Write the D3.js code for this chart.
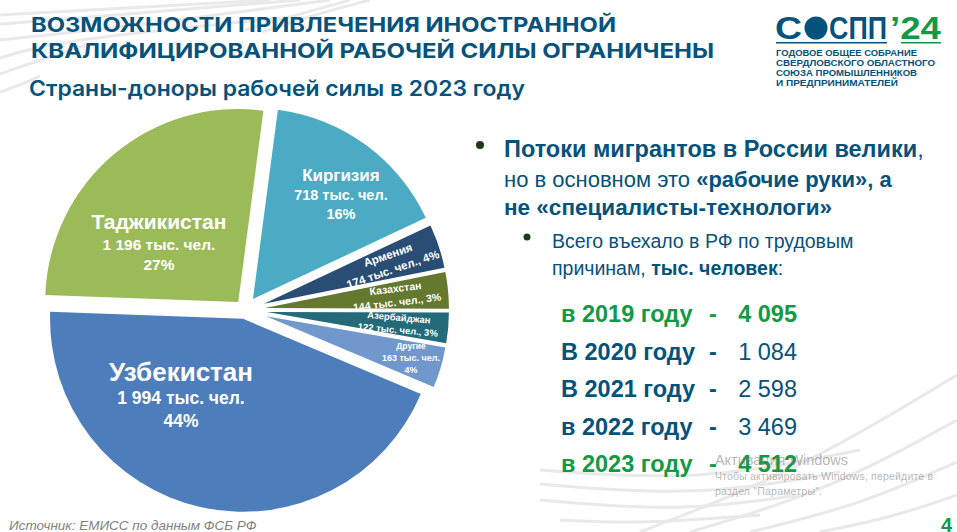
<!DOCTYPE html>
<html>
<head>
<meta charset="utf-8">
<script src="https://cdn.jsdelivr.net/npm/d3@7"></script>
<style>
html, body { margin: 0; padding: 0; background: #fff; }
svg { display: block; }
text { font-family: "Liberation Sans", Arial, sans-serif; }
</style>
</head>
<body>
<div id="chart"></div>
<script>
const width = 957, height = 532

// pie data
const countries = ['Киргизия', 'Армения', 'Казахстан', 'Азербайджан', 'Другие', 'Узбекистан', 'Таджикистан']
const people = [718, 174, 144, 122, 163, 1994, 1196]
const amountLabels = ['718 тыс. чел.', '174 тыс. чел., 4%', '144 тыс. чел., 3%', '122 тыс. чел., 3%', '163 тыс. чел.', '1 994 тыс. чел.', '1 196 тыс. чел.']
const shareLabels = ['16%', '', '', '', '4%', '44%', '27%']
const sliceColors = ['#4babc5', '#2a4d76', '#64782f', '#246a78', '#7098cc', '#4d7ebb', '#9bbb59']

// yearly arrivals
const years = ['в 2019 году', 'В 2020 году', 'В 2021 году', 'в 2022 году', 'в 2023 году']
const arrivals = ['4 095', '1 084', '2 598', '3 469', '4 512']
const highlighted = [true, false, false, false, true]

const blue = '#05527c', green = '#119a45'

const svg = d3.select('#chart').append('svg')
    .attr('width', width)
    .attr('height', height)

// background stripes
const stripeLine = d3.line().curve(d3.curveBasis)
const stripes = svg.append('g')
    .attr('fill', 'none')
    .attr('stroke', '#e9e9e9')
;[
    [[0, 15], [130, 8], [270, 0]],
    [[0, 24], [140, 13], [300, 0]],
    [[0, 40], [150, 24], [330, 0]],
    [[0, 58], [60, 40], [280, 18]],
    [[0, 74], [40, 60], [90, 44]],
    [[0, 92], [20, 85], [40, 76]],
    [[245, 30], [300, 14], [350, 0]],
    [[262, 32], [310, 16], [370, 0]],
    [[640, 532], [800, 470], [957, 375]],
    [[690, 532], [830, 490], [957, 420]],
    [[750, 532], [860, 505], [957, 462]],
    [[820, 532], [890, 518], [957, 495]],
    [[540, 470], [700, 482], [860, 450]],
    [[540, 484], [700, 497], [840, 472]],
    [[540, 500], [680, 512], [800, 495]],
    [[560, 520], [640, 524], [760, 515]]
].forEach(d => {
    stripes.append('path').attr('d', stripeLine(d)).attr('stroke-width', 3)
})

// pie
const pieCenter = [245, 310]
const explode = [13.5, 20, 20, 22, 22, 9, 10.5]
const radii = [191, 184, 184, 182, 182, 193, 193]
const labelRadius = [135, 133, 132, 132, 151, 102, 97]
const labelShift = [4.5, 0, 0, 0, 0, 25, -14.6]
const labelRotate = [0, -19, -7, 5, 0, 0, 0]
const nameSize = [17, 11.5, 10.5, 9.5, 8.5, 26, 21]
const amountSize = [14.5, 11.5, 10.5, 9.5, 9, 17.5, 15.5]

const toRad = Math.PI / 180
const pie = d3.pie().sort(null).startAngle(7.5 * toRad).endAngle(367.5 * toRad)
const slices = pie(people)

const sliceG = svg.selectAll('.slice')
    .data(slices)
    .enter()
    .append('g')
    .attr('class', 'slice')
    .attr('transform', (d, i) => {
        let mid = (d.startAngle + d.endAngle) / 2
        let x = pieCenter[0] + Math.sin(mid) * explode[i]
        let y = pieCenter[1] - Math.cos(mid) * explode[i]
        return 'translate(' + x + ',' + y + ')'
    })

sliceG.append('path')
    .attr('d', (d, i) => d3.arc().innerRadius(0).outerRadius(radii[i])(d))
    .attr('fill', (d, i) => sliceColors[i])

const labels = sliceG.append('g')
    .attr('transform', (d, i) => {
        let a = (d.startAngle + d.endAngle) / 2 + labelShift[i] * toRad
        let x = Math.sin(a) * labelRadius[i]
        let y = -Math.cos(a) * labelRadius[i]
        return 'translate(' + x + ',' + y + ') rotate(' + labelRotate[i] + ')'
    })
    .attr('text-anchor', 'middle')
    .attr('fill', '#fff')
    .attr('font-weight', 'bold')

labels.each(function (d, i) {
    let g = d3.select(this)
    let hasShare = shareLabels[i] !== ''
    let lineGap = amountSize[i] * 1.2
    let top = hasShare ? -lineGap * 0.9 : -lineGap * 0.25
    g.append('text').attr('y', top).attr('font-size', nameSize[i]).text(countries[i])
    g.append('text').attr('y', top + lineGap * 1.1).attr('font-size', amountSize[i]).text(amountLabels[i])
    if (hasShare) g.append('text').attr('y', top + lineGap * 2.2).attr('font-size', amountSize[i]).text(shareLabels[i])
})

// titles
const title = svg.append('g').attr('fill', blue).attr('font-weight', 'bold')
title.append('text').attr('x', 31).attr('y', 32).attr('font-size', 20.5)
    .attr('textLength', 585).attr('lengthAdjust', 'spacingAndGlyphs')
    .style('font-family', 'Inter')
    .text('ВОЗМОЖНОСТИ ПРИВЛЕЧЕНИЯ ИНОСТРАННОЙ')
title.append('text').attr('x', 31).attr('y', 58).attr('font-size', 20.5)
    .attr('textLength', 683).attr('lengthAdjust', 'spacingAndGlyphs')
    .style('font-family', 'Inter')
    .text('КВАЛИФИЦИРОВАННОЙ РАБОЧЕЙ СИЛЫ ОГРАНИЧЕНЫ')
title.append('text').attr('x', 29).attr('y', 96).attr('font-size', 21.5)
    .attr('textLength', 496).attr('lengthAdjust', 'spacingAndGlyphs')
    .attr('font-weight', 600)
    .style('font-family', 'Inter')
    .text('Страны-доноры рабочей силы в 2023 году')

// logo
const logo = svg.append('g').style('font-family', 'Inter').attr('font-weight', 800)
logo.append('text').attr('x', 775).attr('y', 39).attr('font-size', 31).attr('fill', blue)
    .attr('textLength', 27).attr('lengthAdjust', 'spacingAndGlyphs').text('С')
logo.append('circle').attr('cx', 816).attr('cy', 28).attr('r', 11.5).attr('fill', blue)
logo.append('text').attr('x', 829).attr('y', 39).attr('font-size', 31).attr('fill', blue)
    .attr('textLength', 58).attr('lengthAdjust', 'spacingAndGlyphs').text('СПП')
logo.append('text').attr('x', 890).attr('y', 39).attr('font-size', 31).attr('fill', green)
    .attr('textLength', 51).attr('lengthAdjust', 'spacingAndGlyphs').text('’24')
logo.append('rect').attr('x', 776).attr('y', 42).attr('width', 111).attr('height', 1.5).attr('fill', blue)
logo.append('rect').attr('x', 901).attr('y', 42).attr('width', 40).attr('height', 1.5).attr('fill', green)
const logoLines = [['ГОДОВОЕ ОБЩЕЕ СОБРАНИЕ', 141], ['СВЕРДЛОВСКОГО ОБЛАСТНОГО', 159], ['СОЮЗА ПРОМЫШЛЕННИКОВ', 141], ['И ПРЕДПРИНИМАТЕЛЕЙ', 122]]
logoLines.forEach((d, i) => {
    logo.append('text').attr('x', 776).attr('y', 56 + i * 10).attr('font-size', 9).attr('font-weight', 700)
        .attr('fill', blue).attr('textLength', d[1]).attr('lengthAdjust', 'spacingAndGlyphs').text(d[0])
})

// right column
const right = svg.append('g').attr('fill', blue)
right.append('circle').attr('cx', 480).attr('cy', 145).attr('r', 4).attr('fill', '#22381a')
right.append('circle').attr('cx', 527).attr('cy', 237).attr('r', 3.5).attr('fill', '#22381a')

const line1 = right.append('text').attr('x', 504).attr('y', 157).attr('font-size', 23.5)
line1.append('tspan').attr('font-weight', 'bold').text('Потоки мигрантов в России велики')
line1.append('tspan').text(',')
const line2 = right.append('text').attr('x', 504).attr('y', 187).attr('font-size', 22)
line2.append('tspan').text('но в основном это ')
line2.append('tspan').attr('font-weight', 'bold').text('«рабочие руки», а')
right.append('text').attr('x', 504).attr('y', 215).attr('font-size', 22.5).attr('font-weight', 'bold')
    .text('не «специалисты-технологи»')
right.append('text').attr('x', 552).attr('y', 248).attr('font-size', 19.5)
    .text('Всего въехало в РФ по трудовым')
const line5 = right.append('text').attr('x', 552).attr('y', 275).attr('font-size', 19.5)
line5.append('tspan').text('причинам, ')
line5.append('tspan').attr('font-weight', 'bold').text('тыс. человек')
line5.append('tspan').text(':')

const yearY = d3.scalePoint().domain(years).range([322, 472])
years.forEach((y, i) => {
    let color = highlighted[i] ? green : blue
    let row = svg.append('g').attr('fill', color).attr('font-size', 23.5)
    row.append('text').attr('x', 561).attr('y', yearY(y)).attr('font-weight', 'bold').text(y)
    row.append('text').attr('x', 713).attr('y', yearY(y)).attr('font-weight', 'bold').attr('text-anchor', 'middle').text('-')
    row.append('text').attr('x', 797).attr('y', yearY(y)).attr('text-anchor', 'end')
        .attr('font-weight', highlighted[i] ? 'bold' : 'normal').text(arrivals[i])
})

// footer
svg.append('text').attr('x', 9).attr('y', 530).attr('font-size', 13.5).attr('font-style', 'italic')
    .attr('fill', '#7f7f7f').text('Источник: ЕМИСС по данным ФСБ РФ')
svg.append('text').attr('x', 941).attr('y', 532).attr('font-size', 20).attr('font-weight', 'bold')
    .attr('fill', green).text('4')

// windows watermark
const mark = svg.append('g').attr('fill', 'rgba(120,120,120,0.55)').style('font-family', '"Noto Sans"')
mark.append('text').attr('x', 715).attr('y', 465).attr('font-size', 14.5)
    .attr('textLength', 133).text('Активация Windows')
mark.append('text').attr('x', 715).attr('y', 480).attr('font-size', 10.5)
    .attr('textLength', 218).text('Чтобы активировать Windows, перейдите в')
mark.append('text').attr('x', 715).attr('y', 495).attr('font-size', 10.5)
    .attr('textLength', 107).text('раздел "Параметры".')
</script>
</body>
</html>
